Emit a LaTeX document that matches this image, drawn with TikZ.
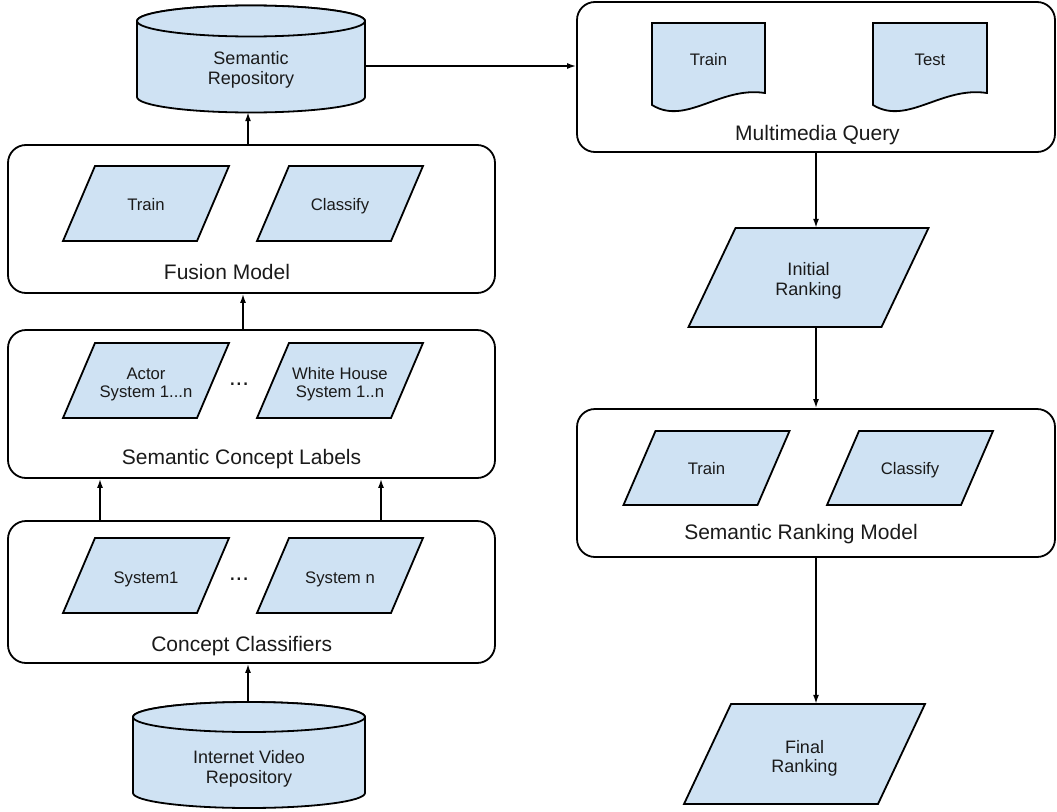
\documentclass[tikz,border=0pt]{standalone}
\usepackage{fontspec}
\setmainfont{Liberation Sans}
\usetikzlibrary{arrows.meta,calc}
\definecolor{fillblue}{HTML}{CFE2F3}
\definecolor{txt}{HTML}{1A1A1A}
\tikzset{
  grp/.style={draw, line width=1.8pt, rounded corners=18pt, inner sep=0pt},
  shp/.style={draw, line width=1.8pt, fill=fillblue, line join=miter},
  ttl/.style={font=\fontsize{21}{24}\selectfont, inner sep=0pt, text=txt},
  dots/.style={font=\fontsize{24}{26}\selectfont, inner sep=0pt, text=txt},
  lbl/.style={font=\fontsize{16.7}{18}\selectfont, align=center, inner sep=0pt, text=txt},
  rk/.style={font=\fontsize{18}{19.5}\selectfont, align=center, inner sep=0pt, text=txt},
  cyltxt/.style={font=\fontsize{18}{20.5}\selectfont, align=center, inner sep=0pt, text=txt},
  arr/.style={line width=1.6pt, -{Latex[length=9pt,width=6pt]}},
  holder/.style={inner sep=0pt},
}
% parallelogram: name, cx, cy, half top width, half height, half skew, text, style, text y offset
\newcommand\pgram[9]{%
  \draw[shp] ({#2-#4+#6},{#3-#5}) -- ({#2+#4+#6},{#3-#5}) -- ({#2+#4-#6},{#3+#5}) -- ({#2-#4-#6},{#3+#5}) -- cycle;
  \node[holder, minimum width={(2*#4)*1pt}, minimum height={(2*#5)*1pt}] (#1) at (#2,#3) {};
  \node[#8] (#1t) at (#2,{#3+#9}) {#7};
}
% cylinder: cx, top ellipse centre y, bottom ellipse centre y, rx, ry
\newcommand\cylshape[5]{%
  \draw[shp] ({#1-#4},#2) -- ({#1-#4},#3) arc[start angle=180,end angle=360,x radius=#4pt,y radius=#5pt]
     -- ({#1+#4},#2) arc[start angle=0,end angle=180,x radius=#4pt,y radius=#5pt] -- cycle;
  \draw[shp] (#1,#2) ellipse[x radius=#4pt, y radius=#5pt];
}
% document: name, left, right, text
\newcommand\docshape[4]{%
  \draw[shp] (#2,23) -- (#3,23) -- (#3,93) .. controls ({#2+0.6*(#3-#2)},86) and ({#2+0.3*(#3-#2)},126) .. (#2,105) -- cycle;
  \node[lbl, minimum width={(#3-#2)*1pt}, minimum height=72pt] (#1) at ({(#2+#3)/2},60) {#4};
}
\begin{document}
\begin{tikzpicture}[x=1pt,y=-1pt]
\useasboundingbox (0,0) rectangle (1057,811);

% ---------- left column ----------
\cylshape{251}{21}{97}{114}{15.5}
\node[cyltxt, minimum width=228pt, minimum height=84pt] (srep) at (251,70) {Semantic\\Repository};

\node[grp, minimum width=487pt, minimum height=148pt] (fm) at (251.5,219) {};
\pgram{fmtrain}{146}{203.5}{67}{37.5}{16}{Train}{lbl}{1}
\pgram{fmclass}{340}{203.5}{67}{37.5}{16}{Classify}{lbl}{3}
\node[ttl] (fmt) at (227,272) {Fusion Model};

\node[grp, minimum width=487pt, minimum height=148pt] (scl) at (251.5,404) {};
\pgram{actor}{146}{380.5}{67}{37.5}{16}{Actor\\System 1...n}{lbl}{4}
\pgram{whouse}{340}{380.5}{67}{37.5}{16}{White House\\System 1..n}{lbl}{4}
\node[dots, anchor=base] (scldots) at (239,385) {...};
\node[ttl] (sclt) at (241.5,459) {Semantic Concept Labels};

\node[grp, minimum width=487pt, minimum height=142pt] (cc) at (251.5,592) {};
\pgram{sysone}{146}{575.5}{67}{37.5}{16}{System1}{lbl}{4}
\pgram{sysn}{340}{575.5}{67}{37.5}{16}{System n}{lbl}{4}
\node[dots, anchor=base] (ccdots) at (239,580) {...};
\node[ttl] (cct) at (241.7,646) {Concept Classifiers};

\cylshape{249}{717}{793}{116}{15}
\node[cyltxt, minimum width=232pt, minimum height=70pt] (ivr) at (249,769) {Internet Video\\Repository};
\coordinate (ivrtop) at (248,702);

% ---------- right column ----------
\node[grp, minimum width=478pt, minimum height=150pt] (mq) at (816,77) {};
\docshape{dtrain}{652}{765}{Train}
\docshape{dtest}{873}{987}{Test}
\node[ttl] (mqt) at (817.5,135) {Multimedia Query};

\pgram{ir}{808.5}{277.5}{96.5}{49.5}{23.5}{Initial\\Ranking}{rk}{3.5}

\node[grp, minimum width=478pt, minimum height=148pt] (srm) at (816,483) {};
\pgram{srtrain}{706.5}{468}{67}{37}{16}{Train}{lbl}{1}
\pgram{srclass}{910}{468}{67}{37}{16}{Classify}{lbl}{2}
\node[ttl] (srmt) at (801,534) {Semantic Ranking Model};

\pgram{fr}{804.5}{754}{97}{50}{23.5}{Final\\Ranking}{rk}{4.5}

% ---------- connectors ----------
\draw[arr] ([xshift=-3.5pt]fm.north) -- ([xshift=-3.5pt]fm.north |- srep.south);
\draw[arr] ([xshift=-8.5pt]scl.north) -- ([xshift=-8.5pt]scl.north |- fm.south);
\draw[arr] ([xshift=-151.5pt]cc.north) -- ([xshift=-151.5pt]cc.north |- scl.south);
\draw[arr] ([xshift=129.5pt]cc.north) -- ([xshift=129.5pt]cc.north |- scl.south);
\draw[arr] (ivrtop) -- (ivrtop |- cc.south);
\draw[arr] ([yshift=4pt]srep.east) -- ([yshift=4pt]srep.east -| mq.west);
\draw[arr] (mq.south) -- (mq.south |- ir.north);
\draw[arr] (mq.south |- ir.south) -- (srm.north);
\draw[arr] (srm.south) -- (srm.south |- fr.north);
\end{tikzpicture}
\end{document}
